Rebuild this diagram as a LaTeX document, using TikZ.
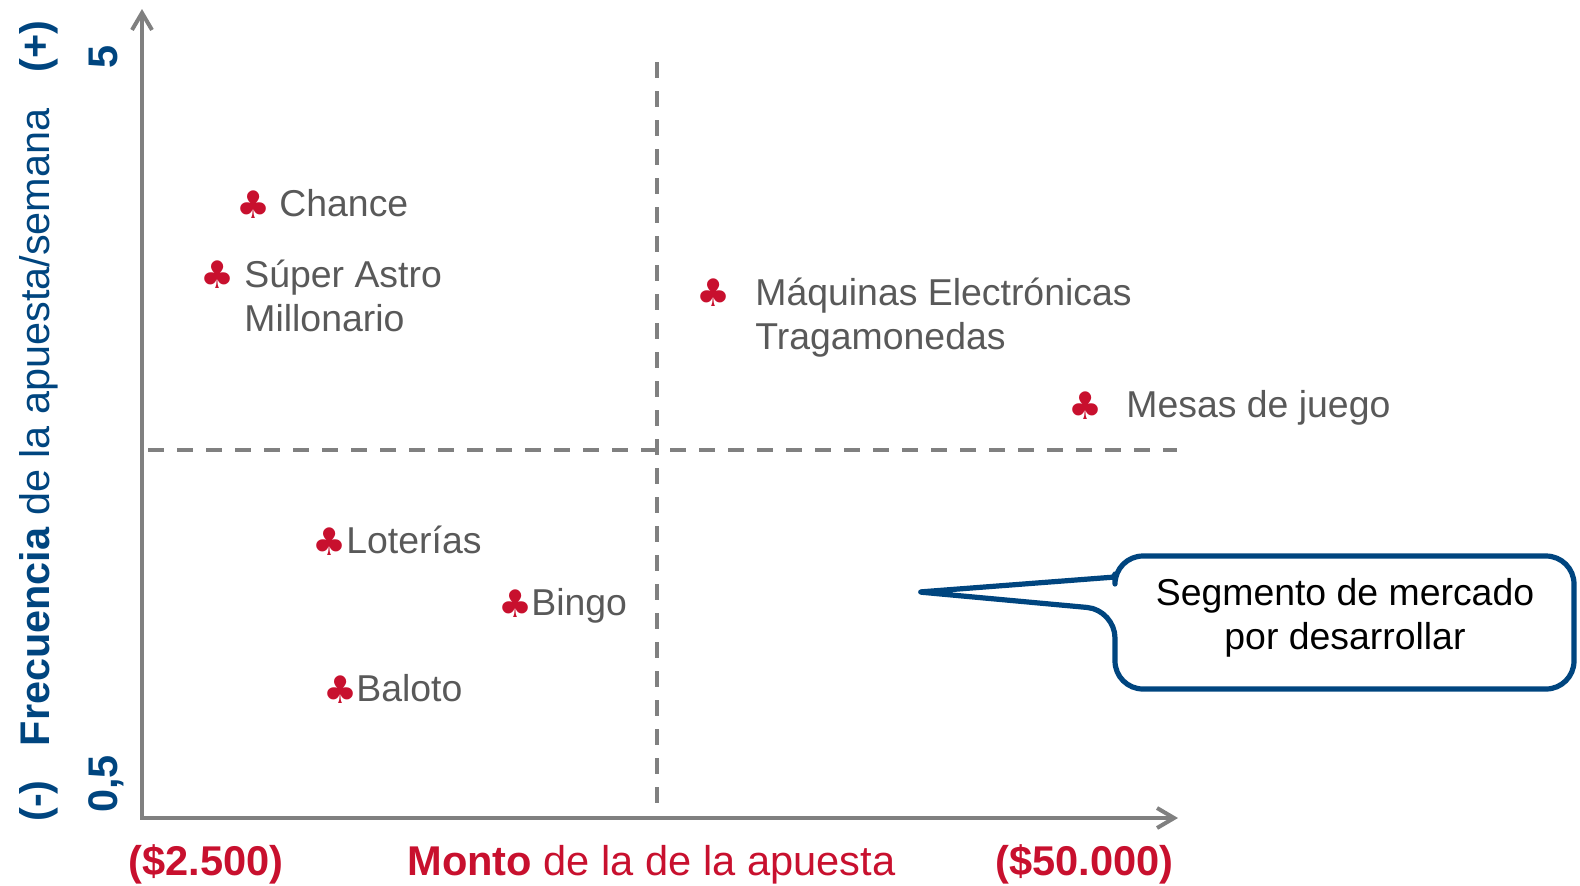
\documentclass[tikz,border=0pt]{standalone}
\usepackage{fontspec}
\setmainfont{Liberation Sans}
\newfontfamily\symfont{DejaVu Sans}
\usetikzlibrary{arrows.meta}
\definecolor{txtgray}{RGB}{89,89,89}
\definecolor{clubred}{RGB}{200,16,46}
\definecolor{axblue}{RGB}{0,69,127}
\definecolor{axgray}{RGB}{128,128,128}
\begin{document}
\begin{tikzpicture}[x=0.5pt,y=-0.5pt,
  axisline/.style={draw=axgray, line width=2pt,
     arrows={Straight Barb[length=8.5pt,width=10pt]-Straight Barb[length=8.5pt,width=10pt]}},
  guide/.style={draw=axgray, line width=1.75pt, dash pattern=on 8pt off 6.5pt},
  itemlabel/.style={anchor=base west, inner sep=0pt, text=txtgray,
     font=\fontsize{18.7}{22.2}\selectfont},
  club/.style={inner sep=0pt, text=clubred, font=\symfont\fontsize{19}{19}\selectfont},
  axlabel/.style={inner sep=0pt, text=clubred, font=\fontsize{20.8}{24}\selectfont},
  ylabel/.style={inner sep=0pt, text=axblue, rotate=90, font=\fontsize{20.7}{24}\selectfont},
  callout/.style={draw=axblue, line width=2.6pt, fill=white, line join=round},
  callouttext/.style={inner sep=0pt, align=center, text=black, font=\fontsize{18.7}{22.2}\selectfont}
]
\useasboundingbox (0,0) rectangle (1580,885);

% axes
\coordinate (ytop) at (142,9);
\coordinate (origin) at (142,818);
\coordinate (xend) at (1178,818);
\draw[axisline] (ytop) -- (origin) -- (xend);

% quadrant guides
\coordinate (vtop) at (657,62);
\coordinate (vbot) at (657,816);
\coordinate (hleft) at (148,450);
\coordinate (hright) at (1177,450);
\draw[guide] (vtop) -- (vbot);
\draw[guide] (hleft) -- (hright);

% items
\node[club] (c1) at (254,205) {♣};
\node[itemlabel] (n1) at (279,216) {Chance};
\node[club] (c2) at (218,275) {♣};
\node[itemlabel] (n2) at (244,287) {\begin{tabular}[t]{@{}l@{}}Súper Astro\\Millonario\end{tabular}};
\node[club] (c3) at (714,293) {♣};
\node[itemlabel] (n3) at (755,305) {\begin{tabular}[t]{@{}l@{}}Máquinas Electrónicas\\Tragamonedas\end{tabular}};
\node[club] (c4) at (1086,406) {♣};
\node[itemlabel] (n4) at (1126,417) {Mesas de juego};
\node[club] (c5) at (330,542) {♣};
\node[itemlabel] (n5) at (346,553) {Loterías};
\node[club] (c6) at (516,604) {♣};
\node[itemlabel] (n6) at (531,615) {Bingo};
\node[club] (c7) at (341,690) {♣};
\node[itemlabel] (n7) at (356,701) {Baloto};

% axis labels
\node[axlabel, anchor=base west] (xmin) at (128,875) {\bfseries (\$2.500)};
\node[axlabel, anchor=base west] (xtitle) at (407,875) {\textbf{Monto} de la de la apuesta};
\node[axlabel, anchor=base east] (xmax) at (1174,875) {\bfseries (\$50.000)};

\node[ylabel, anchor=base west] (ytitle) at (49,822)
  {\textbf{(-)}\hspace{17pt}\textbf{Frecuencia} de la apuesta/semana\hspace{18pt}\textbf{(+)}};
\node[ylabel, anchor=base west, font=\bfseries\fontsize{20.7}{24}\selectfont] (ymin) at (117,813) {0,5};
\node[ylabel, anchor=base, font=\bfseries\fontsize{20.7}{24}\selectfont] (ymax) at (117,57) {5};

% callout
\coordinate (calltip) at (919,592);
\draw[callout] (1345,556) [rounded corners=14pt] -- (1574,556) -- (1574,689) -- (1115,689)
   -- (1115,610) [rounded corners=1.5pt] -- (calltip) -- (1115,577)
   [rounded corners=14pt] -- (1115,556) -- cycle;
\node[callouttext] (calltext) at (1345,618) {Segmento de mercado\\por desarrollar};
\end{tikzpicture}
\end{document}
